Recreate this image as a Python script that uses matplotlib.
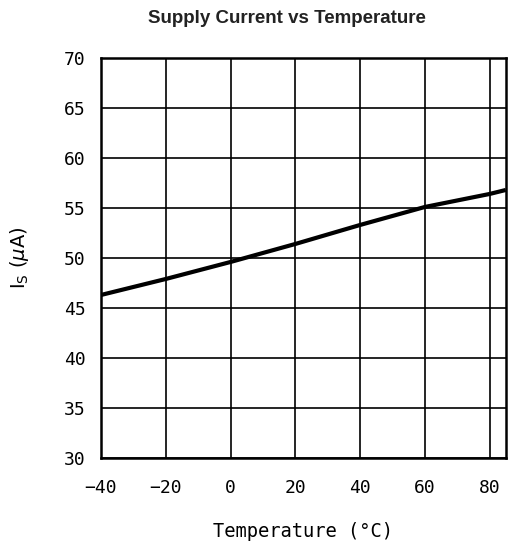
import numpy as np
import matplotlib
matplotlib.use("Agg")
import matplotlib.pyplot as plt

# supply current
temp_c = [-40, -20, 0, 20, 40, 60, 80, 85]
supply_ua = [46.3, 47.9, 49.6, 51.4, 53.3, 55.1, 56.4, 56.8]

x_ticks = [-40, -20, 0, 20, 40, 60, 80]
y_ticks = [30, 35, 40, 45, 50, 55, 60, 65, 70]

plt.rcParams['font.family'] = 'DejaVu Sans Mono'
plt.rcParams['mathtext.fontset'] = 'dejavusans'

fig = plt.figure(figsize=(5.14, 5.5), dpi=100)
ax = fig.add_axes([0.1965, 0.1673, 0.7875, 0.7273])

ax.plot(temp_c, supply_ua, color='black', lw=3, solid_capstyle='butt', zorder=3)

ax.set_xlim(-40, 85)
ax.set_ylim(30, 70)
ax.set_xticks(x_ticks)
ax.set_yticks(y_ticks)
ax.grid(True, color='black', lw=1.2)
for s in ax.spines.values():
    s.set_linewidth(1.8)
ax.tick_params(axis='x', length=0, labelsize=13, pad=15)
ax.tick_params(axis='y', length=0, labelsize=13, pad=11)
ax.set_xticklabels([str(t).replace('-', '\u2212') for t in x_ticks])

ax.set_xlabel('Temperature (°C)', fontsize=13.5, labelpad=18)
ax.set_ylabel(r'I$_\mathregular{S}$ ($\mu$A)', fontsize=14, labelpad=24,
              family='DejaVu Sans')
fig.text(0.558, 0.967, 'Supply Current vs Temperature', ha='center', va='center',
         fontsize=13.5, fontweight='bold', family='Liberation Sans', color='#222222')

fig.savefig('out.png', dpi=100)
